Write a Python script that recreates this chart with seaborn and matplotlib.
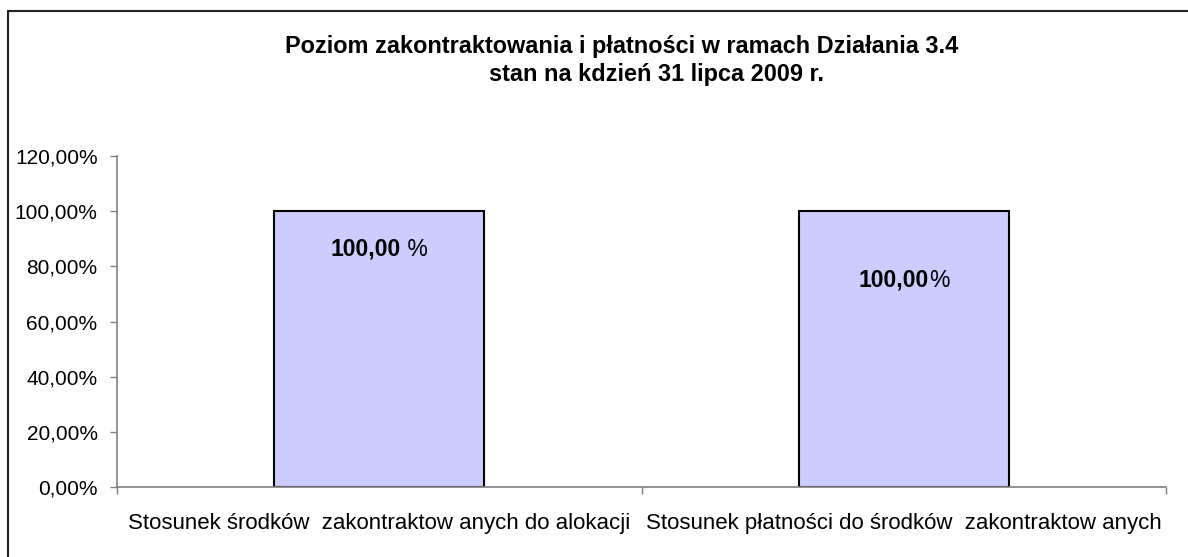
import matplotlib
matplotlib.use("Agg")
import matplotlib.pyplot as plt
import matplotlib.patches as mpatches
import pandas as pd
import seaborn as sns
from matplotlib.ticker import FuncFormatter, FixedLocator

# --- data ---
categories = [
    "Stosunek środków  zakontraktow anych do alokacji",
    "Stosunek płatności do środków  zakontraktow anych",
]
values = [100.0, 100.0]
value_texts = ["100,00", "100,00"]
unit_texts = [" %", "%"]
title_lines = [
    "Poziom zakontraktowania i płatności w ramach Działania 3.4",
    "stan na kdzień 31 lipca 2009 r.",
]

# label heights inside bars (fraction of bar height)
LABEL_FRAC = [0.862, 0.75]
BAR_COLOR = "#CCCCFF"
AXIS_GRAY = "#808080"

sns.set_theme(style="white")
plt.rcParams["font.family"] = ["Liberation Sans", "DejaVu Sans"]
plt.rcParams["text.color"] = "black"

df = pd.DataFrame({"kategoria": categories, "wartosc": values})

fig = plt.figure(figsize=(11.88, 5.57), dpi=100)
ax = fig.add_axes([0.0985, 0.1257, 0.8830, 0.5942])

sns.barplot(data=df, x="kategoria", y="wartosc", color=BAR_COLOR,
            width=0.40, edgecolor="black", linewidth=1.5, saturation=1,
            ax=ax)

ax.set_xlim(-0.5, len(categories) - 0.5)
ax.set_ylim(0, 120)
ax.set_xlabel("")
ax.set_ylabel("")

# y axis
ax.yaxis.set_major_locator(FixedLocator(range(0, 121, 20)))
ax.yaxis.set_major_formatter(FuncFormatter(lambda v, p: f"{v:.2f}%".replace(".", ",")))
ax.tick_params(axis="y", left=True, length=5, width=1, color=AXIS_GRAY,
               labelsize=15, pad=9, labelcolor="black")

# x axis: ticks at category borders, labels without ticks
ax.set_xticks(range(len(categories)))
ax.set_xticklabels(categories)
ax.set_xticks([i - 0.5 for i in range(len(categories) + 1)], minor=True)
ax.tick_params(axis="x", which="major", length=0, labelsize=16, pad=19,
               labelcolor="black")
ax.tick_params(axis="x", which="minor", bottom=True, length=5, width=1,
               color=AXIS_GRAY)

for side in ["top", "right"]:
    ax.spines[side].set_visible(False)
for side in ["left", "bottom"]:
    ax.spines[side].set_color(AXIS_GRAY)
    ax.spines[side].set_linewidth(1.2)

# value labels: bold number + regular percent sign
fig.canvas.draw()
renderer = fig.canvas.get_renderer()
inv = ax.transData.inverted()
for i, (val, num, unit) in enumerate(zip(values, value_texts, unit_texts)):
    y = val * LABEL_FRAC[i]
    t_num = ax.text(i, y, num, ha="center", va="center", fontsize=16.5,
                    fontweight="bold", color="black")
    t_unit = ax.text(i, y, unit, ha="center", va="center", fontsize=16.5,
                     color="black")
    w_num = t_num.get_window_extent(renderer).width
    w_unit = t_unit.get_window_extent(renderer).width
    x0 = ax.transData.transform((i, y))[0] - (w_num + w_unit) / 2
    t_num.set_x(inv.transform((x0 + w_num / 2, 0))[0])
    t_unit.set_x(inv.transform((x0 + w_num + w_unit / 2, 0))[0])

# title
fig.text(0.523, 0.917, title_lines[0], ha="center", va="center",
         fontsize=16.9, fontweight="bold", color="black")
fig.text(0.553, 0.867, title_lines[1], ha="center", va="center",
         fontsize=16.9, fontweight="bold", color="black")

# chart border (runs off the right and bottom edges)
border = mpatches.Rectangle((8 / 1188, -0.1), 1.2, 1.1 - 11 / 557,
                            transform=fig.transFigure, fill=False,
                            edgecolor="#222222", linewidth=1.5)
fig.patches.append(border)

fig.savefig("out.png", dpi=100)
